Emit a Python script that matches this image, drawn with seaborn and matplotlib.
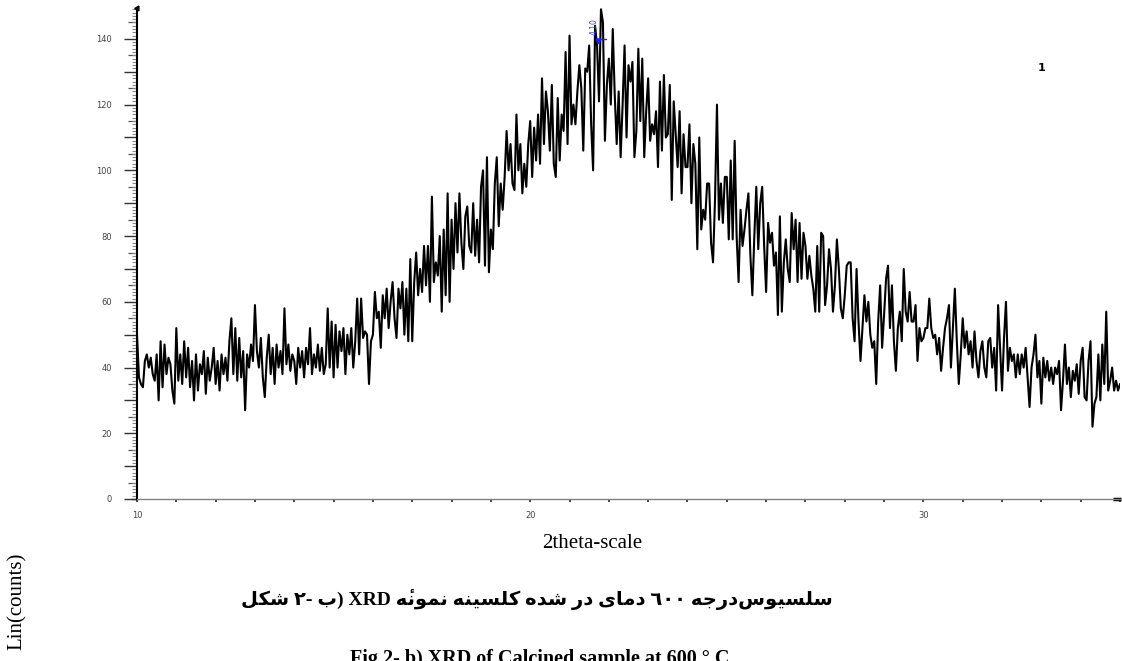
import numpy as np
import pandas as pd
import matplotlib
matplotlib.use("Agg")
import matplotlib.pyplot as plt
import seaborn as sns
from matplotlib import font_manager
from matplotlib.ft2font import FT2Font
from matplotlib.ticker import MultipleLocator, FuncFormatter

# ---------------- data ----------------
TWO_THETA_START = 10.0
TWO_THETA_STEP = 0.05
COUNTS = [
    50, 37, 35, 34, 42, 44, 40, 43, 38, 36, 44, 30, 48, 34, 47, 38, 43, 41, 33, 29,   # 10
    52, 36, 44, 35, 48, 37, 46, 34, 42, 30, 44, 33, 41, 38, 45, 32, 43, 36, 40, 46,   # 11
    35, 42, 33, 44, 38, 43, 36, 48, 55, 38, 52, 36, 49, 37, 45, 27, 44, 40, 47, 42,   # 12
    59, 45, 40, 49, 37, 31, 43, 50, 38, 46, 35, 47, 40, 45, 38, 58, 41, 47, 39, 44,   # 13
    42, 35, 46, 40, 45, 37, 46, 41, 52, 38, 44, 40, 47, 39, 46, 38, 41, 58, 40, 54,   # 14
    37, 53, 40, 51, 45, 52, 38, 50, 44, 52, 40, 48, 61, 44, 61, 49, 51, 50, 35, 48,   # 15
    50, 63, 55, 57, 46, 62, 55, 64, 52, 60, 66, 55, 49, 64, 58, 66, 50, 64, 48, 73,   # 16
    48, 66, 75, 62, 70, 63, 77, 65, 77, 60, 92, 66, 72, 68, 80, 57, 82, 62, 93, 60,   # 17
    85, 70, 90, 75, 93, 78, 70, 86, 89, 77, 75, 90, 74, 85, 72, 95, 100, 71, 104, 69, # 18
    82, 76, 96, 104, 83, 96, 88, 98, 112, 100, 108, 96, 94, 117, 100, 108, 93, 102, 95, 108,  # 19
    115, 98, 113, 103, 117, 102, 128, 108, 124, 118, 106, 126, 102, 98, 122, 103, 117, 112, 136, 108,  # 20
    141, 114, 120, 114, 124, 132, 125, 106, 131, 130, 138, 114, 100, 144, 138, 121, 149, 145, 109, 126,  # 21
    134, 120, 143, 123, 108, 124, 104, 120, 138, 110, 132, 127, 133, 104, 112, 137, 115, 134, 104, 118,  # 22
    128, 109, 114, 111, 118, 101, 127, 106, 129, 110, 111, 126, 91, 121, 111, 101, 118, 93, 111, 101,  # 23
    101, 114, 90, 108, 102, 76, 110, 82, 88, 85, 96, 96, 78, 72, 91, 120, 85, 96, 84, 98,  # 24
    98, 79, 103, 79, 109, 80, 66, 88, 77, 82, 88, 93, 74, 62, 80, 95, 76, 90, 95, 77,   # 25
    63, 84, 78, 81, 71, 75, 56, 86, 57, 72, 79, 70, 66, 87, 76, 85, 66, 84, 67, 81,   # 26
    77, 67, 74, 68, 64, 57, 77, 57, 81, 80, 59, 65, 76, 70, 57, 65, 79, 70, 58, 55,   # 27
    62, 71, 72, 72, 55, 48, 70, 54, 42, 52, 62, 54, 60, 50, 46, 48, 35, 54, 65, 46,   # 28
    56, 67, 71, 52, 65, 48, 39, 52, 57, 48, 70, 57, 54, 63, 54, 54, 59, 42, 52, 48,   # 29
    49, 52, 52, 61, 52, 49, 50, 44, 49, 39, 46, 52, 55, 59, 40, 52, 64, 48, 35, 44,   # 30
    55, 46, 51, 44, 48, 40, 51, 42, 37, 45, 48, 40, 37, 48, 49, 40, 46, 33, 59, 46,   # 31
    33, 49, 60, 39, 46, 42, 44, 37, 44, 38, 44, 40, 46, 37, 28, 40, 44, 50, 37, 42,   # 32
    29, 43, 37, 42, 36, 40, 35, 40, 38, 42, 27, 36, 47, 35, 40, 31, 39, 36, 41, 32,   # 33
    42, 46, 31, 30, 42, 48, 22, 29, 31, 44, 30, 47, 35, 57, 33, 36, 40, 33, 36, 33, 35,  # 34-35
]
X_MAJOR_TICKS = [10, 20, 30]
Y_MAJOR_TICKS = [0, 10, 20, 30, 40, 50, 60, 70, 80, 90, 100, 110, 120, 130, 140]
Y_MID_TICKS = [5, 15, 25, 35, 45, 55, 65, 75, 85, 95, 105, 115, 125, 135, 145]
X_RANGE = [10, 35.0]
Y_RANGE = [0, 149.4]
X_LABEL = "2theta-scale"
Y_LABEL = "Lin(counts)"
CAPTION_FA = "شکل ٢- ب) XRD نمونۀ کلسینه شده در دمای ٦٠٠ درجه\u200cسلسیوس"
CAPTION_EN = "Fig 2- b) XRD of Calcined sample at 600 ° C"
PEAK_TEXT = "4.10"
PEAK_POS = [21.62, 140.0]
SCAN_ID = "1"

# ---------------- Persian shaping (visual order like the reference) ----------------
FORMS = {
    'ا': ('\uFE8D', '\uFE8E', None, None),
    'ب': ('\uFE8F', '\uFE90', '\uFE91', '\uFE92'),
    'ج': ('\uFE9D', '\uFE9E', '\uFE9F', '\uFEA0'),
    'د': ('\uFEA9', '\uFEAA', None, None),
    'ر': ('\uFEAD', '\uFEAE', None, None),
    'س': ('\uFEB1', '\uFEB2', '\uFEB3', '\uFEB4'),
    'ش': ('\uFEB5', '\uFEB6', '\uFEB7', '\uFEB8'),
    'ل': ('\uFEDD', '\uFEDE', '\uFEDF', '\uFEE0'),
    'م': ('\uFEE1', '\uFEE2', '\uFEE3', '\uFEE4'),
    'ن': ('\uFEE5', '\uFEE6', '\uFEE7', '\uFEE8'),
    'ه': ('\uFEE9', '\uFEEA', '\uFEEB', '\uFEEC'),
    'و': ('\uFEED', '\uFEEE', None, None),
    'ی': ('\uFBFC', '\uFBFD', '\uFBFE', '\uFBFF'),
    'ک': ('\uFB8E', '\uFB8F', '\uFB90', '\uFB91'),
    'ۀ': ('\uFBA4', '\uFBA5', None, None),
}
FALLBACK = {
    'ی': ('\uFEEF', '\uFEF0', '\uFEF3', '\uFEF4'),
    'ک': ('\uFED9', '\uFEDA', '\uFEDB', '\uFEDC'),
    'ۀ': ('\uFEE9\u0654', '\uFEEA\u0654', None, None),
}
try:
    _path = font_manager.findfont(font_manager.FontProperties(family="DejaVu Sans", weight="bold"))
    _cmap = FT2Font(_path).get_charmap()
    for k, forms in list(FORMS.items()):
        if any(f is not None and ord(f[0]) not in _cmap for f in forms):
            FORMS[k] = FALLBACK.get(k, forms)
    if 0x0654 not in _cmap:
        FORMS['ۀ'] = ('\uFEE9', '\uFEEA', None, None) if FORMS['ۀ'][0][0] == '\uFEE9' else FORMS['ۀ']
except Exception:
    pass


def shape_visual(text):
    chars = list(text)
    out = []
    run = []
    for i, c in enumerate(chars):
        if c in FORMS:
            prev = chars[i - 1] if i > 0 else None
            nxt = chars[i + 1] if i + 1 < len(chars) else None
            pj = prev in FORMS and FORMS[prev][2] is not None
            nj = FORMS[c][2] is not None and nxt in FORMS
            iso, fin, ini, med = FORMS[c]
            if pj and nj:
                g = med
            elif pj:
                g = fin
            elif nj:
                g = ini
            else:
                g = iso
            run.append(g)
        else:
            if run:
                out.extend(reversed(run))
                run = []
            if c != '\u200c':
                out.append(c)
    if run:
        out.extend(reversed(run))
    return ''.join(out)


# ---------------- figure ----------------
sns.set_theme(style="white")
plt.rcParams['font.family'] = ['DejaVu Sans']

W, H = 1122, 661
fig = plt.figure(figsize=(W / 100, H / 100), dpi=100)
ax = fig.add_axes([137 / W, 1 - 499 / H, (1120 - 137) / W, (499 - 8) / H])

two_theta = TWO_THETA_START + TWO_THETA_STEP * np.arange(len(COUNTS))
df = pd.DataFrame({"two_theta": two_theta, "counts": COUNTS})
sns.lineplot(data=df, x="two_theta", y="counts", ax=ax, color="black",
             linewidth=1.5, estimator=None, sort=False)

ax.set_xlim(*X_RANGE)
ax.set_ylim(*Y_RANGE)
ax.set_xlabel("")
ax.set_ylabel("")

for s in ["top", "right"]:
    ax.spines[s].set_visible(False)
ax.spines["left"].set_color("black")
ax.spines["left"].set_linewidth(1.5)
ax.spines["bottom"].set_color("#808080")
ax.spines["bottom"].set_linewidth(1.0)

# y ticks
ax.set_yticks(Y_MAJOR_TICKS)
ax.yaxis.set_major_formatter(FuncFormatter(lambda v, p: f"{int(v)}" if int(v) % 20 == 0 else ""))
ax.yaxis.set_minor_locator(MultipleLocator(1))
ax.tick_params(axis="y", which="major", direction="out", length=9.5, width=1.0,
               color="#333333", pad=8.5, labelsize=6, labelcolor="#444444", left=True)
ax.tick_params(axis="y", which="minor", direction="out", length=3.6, width=0.8,
               color="#8a8a8a", left=True)
sec = ax.secondary_yaxis("left")
sec.set_yticks(Y_MID_TICKS)
sec.tick_params(axis="y", which="major", direction="out", length=6.5, width=0.9,
                color="#555555", labelleft=False)
sec.yaxis.set_minor_locator(MultipleLocator(1000))
sec.spines["left"].set_visible(False)

# x ticks
ax.set_xticks(X_MAJOR_TICKS)
ax.xaxis.set_minor_locator(MultipleLocator(1))
ax.tick_params(axis="x", which="major", direction="out", length=2.5, width=1.2,
               color="#222222", pad=6, labelsize=6, labelcolor="#444444", bottom=True)
ax.tick_params(axis="x", which="minor", direction="out", length=2.5, width=1.2,
               color="#222222", bottom=True)

# axis-end marks
ax.plot([0.0], [1.0], marker=(3, 0, -30), markersize=4, color="black",
        transform=ax.transAxes, clip_on=False)
ax.plot([0.997], [0.0], marker="_", markersize=6, markeredgewidth=2.5, color="black",
        transform=ax.transAxes, clip_on=False)

# peak annotation
ax.text(PEAK_POS[0], PEAK_POS[1] + 1.2, PEAK_TEXT, rotation=90, color="#3a3aff",
        fontsize=5.5, ha="center", va="bottom")
ax.plot([PEAK_POS[0] + 0.08, PEAK_POS[0] + 0.3], [PEAK_POS[1], PEAK_POS[1]],
        color="#2020ff", linewidth=1.0)
ax.plot([PEAK_POS[0] + 0.1], [PEAK_POS[1] - 0.6], marker="v", markersize=3.5, color="#2020ff")

# scan id
fig.text(1042 / W, 1 - 68 / H, SCAN_ID, fontsize=8, fontweight="bold", ha="center",
         va="center", color="black")

# axis titles
fig.text(592 / W, 1 - 543 / H, X_LABEL, fontsize=15, family="Liberation Serif",
         ha="center", va="center", color="black")
fig.text(17 / W, 1 - 601 / H, Y_LABEL, fontsize=15, family="Liberation Serif",
         rotation=90, ha="center", va="center", color="black")

# captions
fig.text(537 / W, 1 - 600 / H, shape_visual(CAPTION_FA), fontsize=14, fontweight="bold",
         family=["Liberation Serif", "DejaVu Sans"], ha="center", va="center", color="black")
fig.text(540 / W, -3 / H, CAPTION_EN, fontsize=14.5, fontweight="bold",
         family="Liberation Serif", ha="center", va="baseline", color="black")

fig.savefig("out.png", dpi=100)
